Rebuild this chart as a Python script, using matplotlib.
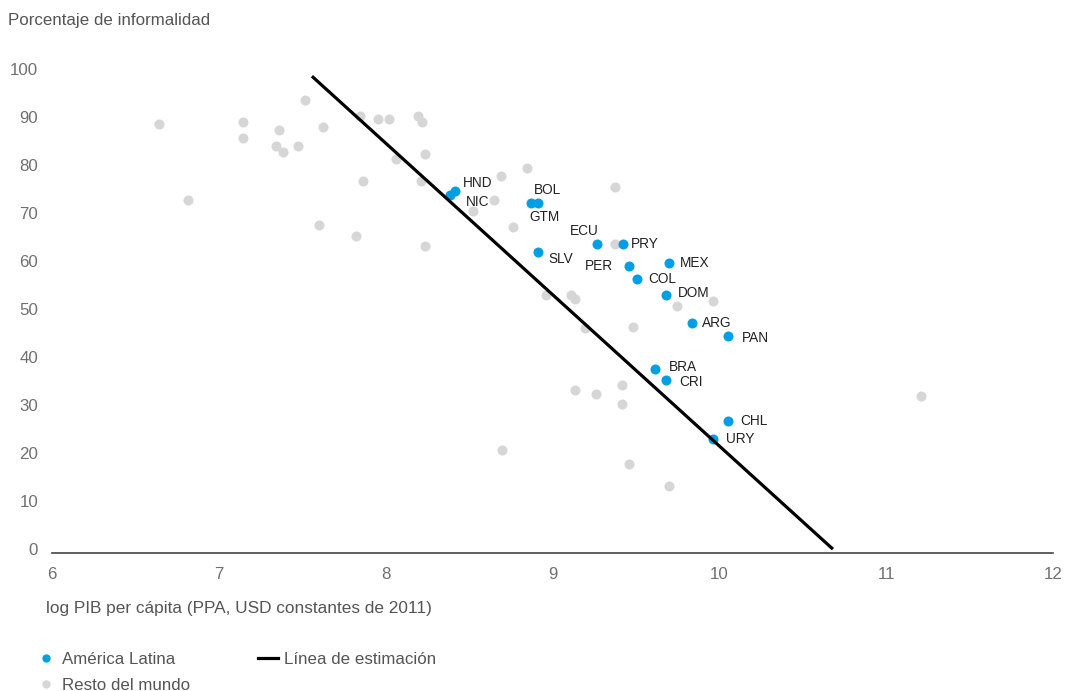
import matplotlib
matplotlib.use("Agg")
import matplotlib.pyplot as plt
from matplotlib.lines import Line2D

plt.rcParams['font.family'] = ['Liberation Sans', 'DejaVu Sans']

# ---- data ----
latam_codes = ["NIC", "HND", "GTM", "BOL", "ECU", "PRY", "SLV", "PER", "MEX",
               "COL", "DOM", "ARG", "PAN", "BRA", "CRI", "CHL", "URY"]
latam_x = [8.386, 8.413, 8.871, 8.916, 9.265, 9.421, 8.915, 9.460, 9.700,
           9.505, 9.680, 9.834, 10.050, 9.614, 9.680, 10.050, 9.964]
latam_y = [73.75, 74.6, 72.1, 72.1, 63.6, 63.6, 61.9, 59.0, 59.6,
           56.3, 52.9, 47.2, 44.4, 37.6, 35.3, 26.7, 22.85]

rest_x = [6.643, 6.817, 7.147, 7.147, 7.362, 7.341, 7.385, 7.473, 7.517, 7.624,
          7.602, 7.846, 7.866, 7.822, 7.952, 8.018, 8.062, 8.192, 8.216, 8.236,
          8.212, 8.236, 8.522, 8.652, 8.691, 8.849, 9.375, 8.761, 9.375, 8.959,
          9.109, 9.135, 9.745, 9.962, 9.195, 9.483, 11.209, 9.135, 9.263, 9.418,
          9.418, 8.696, 9.460, 9.700]
rest_y = [88.5, 72.7, 89.0, 85.7, 87.4, 84.0, 82.8, 84.0, 93.6, 87.9,
          67.6, 90.2, 76.6, 65.3, 89.6, 89.6, 81.2, 90.2, 89.0, 82.3,
          76.6, 63.1, 70.4, 72.7, 77.8, 79.4, 75.5, 67.0, 63.6, 52.9,
          52.9, 52.2, 50.6, 51.7, 46.0, 46.2, 31.9, 33.1, 32.4, 34.2,
          30.2, 20.6, 17.7, 13.2]

fit_x = [7.558, 10.681]
fit_y = [98.5, 0.0]

x_ticks = [6, 7, 8, 9, 10, 11, 12]
y_ticks = [0, 10, 20, 30, 40, 50, 60, 70, 80, 90, 100]

# ---- label placement (pixel offsets, horizontal alignment) ----
label_pos = {
    "NIC": (16, 7, "left"), "HND": (8, -8, "left"), "GTM": (-2, 14, "left"),
    "BOL": (-5, -13, "left"), "ECU": (2, -13, "right"), "PRY": (8, 0, "left"),
    "SLV": (10, 7, "left"), "PER": (-16, 0, "right"), "MEX": (11, 0, "left"),
    "COL": (11, 0, "left"), "DOM": (12, -2, "left"), "ARG": (10, 0, "left"),
    "PAN": (14, 2, "left"), "BRA": (14, -2, "left"), "CRI": (13, 2, "left"),
    "CHL": (13, 0, "left"), "URY": (13, 0, "left"),
}

BLUE = "#009FE3"
GRAY_DOT = "#D6D6D6"
TICK_COL = "#707070"
TEXT_COL = "#555555"

W, H = 1068, 691
fig = plt.figure(figsize=(W / 100, H / 100), dpi=100)
ax_left, ax_right, ax_bot, ax_top = 52, 1053, 553, 59.4
ax = fig.add_axes([ax_left / W, 1 - ax_bot / H, (ax_right - ax_left) / W, (ax_bot - ax_top) / H])

ax.scatter(rest_x, rest_y, s=52, color=GRAY_DOT, linewidths=0, zorder=1)
ax.scatter(latam_x, latam_y, s=52, color=BLUE, linewidths=0, zorder=2)
ax.plot(fit_x, fit_y, color="black", lw=2.3, zorder=3, solid_capstyle="butt")

for code, x, y in zip(latam_codes, latam_x, latam_y):
    dx, dy, ha = label_pos[code]
    ax.annotate(code, (x, y), xytext=(dx * 0.72, -dy * 0.72), textcoords="offset points",
                ha=ha, va="center", fontsize=9.8, color="#222222", zorder=4)

ax.set_xlim(6, 12)
ax.set_ylim(-0.8, 102)
ax.set_xticks(x_ticks)
ax.set_yticks(y_ticks)
ax.tick_params(length=0, labelsize=12.2, labelcolor=TICK_COL)
ax.tick_params(axis="y", pad=10)
ax.tick_params(axis="x", pad=10)
for s in ["top", "right", "left"]:
    ax.spines[s].set_visible(False)
ax.spines["bottom"].set_color("#444444")
ax.spines["bottom"].set_linewidth(1.2)

fig.text(8 / W, 1 - 20 / H, "Porcentaje de informalidad", fontsize=12.2, color=TEXT_COL,
         ha="left", va="center")
fig.text(46 / W, 1 - 609 / H, "log PIB per cápita (PPA, USD constantes de 2011)", fontsize=12.4,
         color=TEXT_COL, ha="left", va="center")

handles = [
    Line2D([], [], marker="o", ls="", markersize=6, color=BLUE, markeredgewidth=0, label="América Latina"),
    Line2D([], [], marker="o", ls="", markersize=6, color=GRAY_DOT, markeredgewidth=0, label="Resto del mundo"),
    Line2D([], [], color="black", lw=2.3, label="Línea de estimación"),
]
fig.legend(handles=handles, ncol=2, loc="upper left", bbox_to_anchor=(36 / W, 1 - 652 / H),
           frameon=False, fontsize=12.2, labelcolor=TEXT_COL, handlelength=1.2,
           handletextpad=0.35, columnspacing=4.0, labelspacing=0.65, borderaxespad=0,
           borderpad=0)

fig.savefig("out.png", dpi=100)
